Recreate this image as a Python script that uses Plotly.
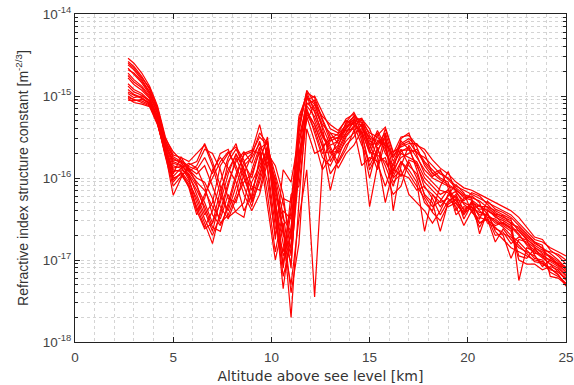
import plotly.graph_objects as go

# Altitude grid [km]
altitude = [2.7, 3.0, 3.4, 3.8, 4.2, 4.6, 5.0, 5.4, 5.8, 6.2, 6.6, 7.0, 7.4, 7.8, 8.2, 8.6,
            9.0, 9.4, 9.8, 10.2, 10.6, 11.0, 11.4, 11.8, 12.2, 12.6, 13.0, 13.4, 13.8, 14.2,
            14.6, 15.0, 15.4, 15.8, 16.2, 16.6, 17.0, 17.4, 17.8, 18.2, 18.6, 19.0, 19.4,
            19.8, 20.2, 20.6, 21.0, 21.4, 21.8, 22.2, 22.6, 23.0, 23.4, 23.8, 24.2, 24.6, 25.0]

# log10(Cn2) profiles
s01 = [-14.54, -14.60, -14.72, -14.88, -15.12, -15.50, -15.72, -15.75, -15.80, -15.70, -15.60, -15.85, -16.20, -16.40, -16.10, -15.80, -15.70, -15.50, -15.60, -16.20, -16.60, -17.70, -16.30, -15.10, -15.05, -15.30, -15.55, -15.50, -15.35, -15.25, -15.30, -15.55, -15.60, -15.50, -15.80, -15.60, -15.55, -15.70, -15.75, -15.85, -15.95, -16.00, -16.10, -16.15, -16.20, -16.25, -16.30, -16.35, -16.40, -16.45, -16.55, -16.65, -16.75, -16.78, -16.85, -16.90, -16.95]
s02 = [-14.58, -14.64, -14.76, -14.92, -15.18, -15.58, -15.80, -15.84, -15.95, -16.10, -16.30, -16.55, -16.30, -15.95, -15.70, -15.90, -16.15, -15.90, -15.62, -15.95, -16.30, -16.75, -15.40, -14.95, -15.20, -15.45, -15.70, -15.60, -15.40, -15.30, -15.32, -15.45, -15.50, -15.65, -15.95, -15.70, -15.75, -15.80, -16.00, -16.10, -16.20, -16.15, -16.25, -16.30, -16.35, -16.45, -16.45, -16.55, -16.55, -16.60, -16.70, -16.80, -16.88, -16.95, -17.00, -17.05, -17.15]
s03 = [-14.62, -14.68, -14.80, -14.95, -15.15, -15.52, -15.68, -15.78, -15.86, -15.90, -15.75, -15.95, -15.70, -15.65, -15.90, -16.20, -16.40, -16.20, -15.80, -16.00, -16.45, -17.10, -15.60, -15.05, -15.00, -15.20, -15.40, -15.45, -15.28, -15.22, -15.45, -15.90, -15.70, -15.40, -15.70, -15.50, -15.48, -15.60, -15.65, -15.78, -15.88, -15.95, -16.05, -16.12, -16.15, -16.20, -16.25, -16.30, -16.36, -16.40, -16.48, -16.60, -16.72, -16.75, -16.88, -16.95, -17.05]
s04 = [-14.66, -14.74, -14.84, -14.98, -15.22, -15.62, -15.90, -15.92, -16.05, -16.25, -16.50, -16.70, -16.45, -16.10, -15.75, -16.00, -16.25, -15.75, -15.55, -16.40, -17.35, -16.60, -15.80, -15.20, -15.35, -15.60, -16.15, -15.75, -15.50, -15.38, -15.28, -15.40, -15.65, -15.85, -16.10, -15.80, -15.90, -16.05, -16.65, -16.20, -16.30, -16.25, -16.35, -16.58, -16.40, -16.55, -16.50, -16.78, -16.62, -16.75, -16.85, -16.90, -16.95, -17.05, -17.10, -17.18, -17.32]
s05 = [-14.72, -14.80, -14.88, -15.00, -15.20, -15.55, -15.76, -15.82, -15.90, -16.00, -16.05, -16.25, -16.55, -16.45, -16.20, -15.85, -15.75, -15.58, -15.85, -16.60, -16.90, -16.35, -15.25, -15.00, -15.15, -15.38, -15.60, -15.55, -15.38, -15.28, -15.50, -16.35, -15.85, -15.45, -16.40, -15.85, -15.60, -15.75, -15.90, -16.00, -16.05, -16.10, -16.15, -16.22, -16.25, -16.68, -16.40, -16.45, -16.50, -16.55, -16.62, -16.72, -16.80, -16.85, -16.92, -17.00, -17.10]
s06 = [-14.78, -14.86, -14.93, -15.03, -15.26, -15.66, -16.00, -15.96, -16.10, -16.35, -16.60, -16.40, -16.05, -15.75, -15.58, -15.95, -16.30, -16.05, -15.70, -15.85, -16.20, -16.95, -15.95, -15.15, -15.45, -15.75, -15.85, -15.65, -15.45, -15.32, -15.36, -15.60, -15.45, -15.70, -15.85, -15.65, -15.85, -15.95, -16.20, -16.30, -16.65, -16.30, -16.20, -16.40, -16.30, -16.35, -16.35, -16.40, -16.45, -16.50, -17.25, -16.85, -16.90, -16.98, -17.05, -17.10, -17.20]
s07 = [-14.85, -14.92, -14.97, -15.06, -15.24, -15.60, -15.85, -15.88, -15.98, -16.15, -16.35, -16.60, -16.65, -16.30, -15.95, -15.72, -15.68, -15.35, -15.75, -16.30, -16.80, -17.30, -16.50, -15.90, -17.45, -15.85, -15.50, -15.70, -15.55, -15.45, -15.40, -15.50, -15.75, -16.30, -15.90, -15.75, -15.70, -15.65, -15.80, -15.90, -16.00, -16.05, -16.40, -16.25, -16.22, -16.30, -16.55, -16.60, -16.70, -16.98, -16.75, -16.78, -16.85, -16.90, -16.95, -17.02, -17.12]
s08 = [-14.92, -14.98, -15.02, -15.09, -15.30, -15.70, -16.21, -16.00, -15.84, -15.80, -15.58, -15.80, -16.10, -16.48, -16.40, -16.30, -15.90, -15.62, -16.20, -16.90, -16.40, -16.50, -15.70, -15.30, -15.10, -15.25, -15.35, -15.42, -15.30, -15.35, -15.60, -15.80, -15.55, -15.60, -16.00, -15.90, -16.20, -16.30, -16.40, -16.55, -16.40, -16.20, -16.08, -16.18, -16.42, -16.50, -16.28, -16.38, -16.42, -16.48, -16.58, -16.68, -16.78, -16.82, -17.20, -17.22, -17.30]
s09 = [-14.97, -15.02, -15.00, -15.05, -15.28, -15.64, -15.95, -15.74, -15.92, -16.05, -16.15, -16.35, -16.50, -16.20, -16.42, -16.48, -16.05, -15.85, -15.65, -16.10, -16.70, -16.85, -15.35, -14.98, -15.30, -15.55, -15.95, -15.80, -15.60, -15.50, -15.34, -15.65, -15.90, -15.55, -15.75, -15.55, -15.65, -15.85, -16.05, -16.15, -16.25, -16.35, -16.30, -16.45, -16.28, -16.40, -16.48, -16.50, -16.58, -16.65, -17.00, -17.05, -17.05, -17.12, -17.08, -17.12, -17.25]
s10 = [-15.00, -15.05, -15.06, -15.11, -15.33, -15.72, -16.05, -15.93, -16.12, -16.45, -16.20, -16.00, -15.80, -15.68, -15.85, -16.10, -16.35, -16.00, -15.60, -16.50, -17.05, -16.20, -16.10, -15.25, -15.55, -15.90, -15.75, -15.52, -15.33, -15.26, -15.55, -16.00, -15.62, -15.95, -16.20, -16.10, -15.80, -16.00, -16.30, -16.40, -16.10, -15.92, -16.18, -16.28, -16.18, -16.22, -16.32, -16.42, -16.48, -16.52, -16.65, -16.75, -16.82, -16.88, -16.90, -16.93, -17.00]
s11 = [-15.03, -15.08, -15.10, -15.13, -15.35, -15.68, -15.88, -15.86, -16.02, -16.30, -16.55, -16.80, -16.40, -16.05, -15.80, -15.68, -15.82, -15.55, -15.90, -16.75, -15.90, -16.05, -15.50, -15.12, -15.25, -15.50, -15.65, -15.88, -15.70, -15.60, -15.42, -15.70, -15.48, -15.38, -15.68, -15.62, -15.58, -15.58, -15.70, -15.95, -15.90, -16.12, -16.45, -16.35, -16.38, -16.60, -16.42, -16.65, -16.75, -16.85, -16.90, -16.95, -17.00, -17.02, -17.15, -17.20, -17.28]
s12 = [-15.05, -15.06, -15.04, -15.08, -15.31, -15.74, -16.10, -15.98, -15.88, -15.95, -15.85, -16.10, -16.35, -16.50, -16.25, -16.05, -15.95, -15.68, -16.35, -17.00, -16.55, -17.40, -16.80, -15.40, -15.70, -15.65, -15.45, -15.48, -15.42, -15.40, -15.85, -15.75, -15.80, -15.75, -16.05, -15.95, -16.00, -16.15, -16.10, -16.25, -16.45, -16.28, -16.22, -16.50, -16.32, -16.38, -16.38, -16.48, -16.52, -16.58, -16.68, -16.82, -16.92, -16.93, -17.02, -17.08, -17.18]
s13 = [-14.68, -14.72, -14.82, -14.96, -15.20, -15.57, -15.82, -15.85, -15.92, -15.85, -15.65, -15.70, -15.90, -16.25, -16.30, -15.95, -15.72, -15.45, -15.58, -16.05, -16.65, -17.05, -15.75, -15.02, -15.10, -15.35, -15.45, -15.58, -15.45, -15.30, -15.27, -15.48, -15.58, -15.45, -15.75, -15.58, -15.52, -15.62, -15.85, -15.98, -15.92, -16.02, -16.12, -16.20, -16.24, -16.28, -16.36, -16.44, -16.46, -16.56, -16.60, -16.70, -16.78, -16.86, -16.98, -17.04, -17.08]
s14 = [-14.75, -14.83, -14.90, -15.02, -15.25, -15.65, -15.92, -15.90, -15.96, -16.20, -16.45, -16.30, -15.85, -15.70, -15.62, -15.78, -16.10, -16.15, -15.72, -16.25, -17.10, -16.40, -15.45, -14.93, -15.08, -15.40, -15.80, -15.62, -15.32, -15.20, -15.38, -15.65, -15.42, -15.62, -15.92, -15.52, -15.45, -15.72, -15.95, -16.05, -16.15, -16.18, -16.28, -16.38, -16.36, -16.42, -16.45, -16.52, -16.60, -16.70, -16.78, -16.88, -16.98, -17.00, -17.12, -17.15, -17.22]
s15 = [-14.88, -14.95, -14.99, -15.07, -15.27, -15.61, -15.78, -15.80, -16.00, -16.40, -16.25, -15.90, -15.75, -15.88, -16.05, -16.40, -16.20, -15.80, -15.50, -16.35, -16.95, -16.70, -15.90, -15.08, -15.18, -15.48, -15.62, -15.82, -15.65, -15.42, -15.35, -15.58, -15.82, -16.10, -15.82, -15.68, -15.62, -15.90, -16.22, -16.35, -16.28, -16.14, -16.32, -16.42, -16.30, -16.48, -16.52, -16.58, -16.54, -16.62, -16.95, -16.98, -16.86, -16.96, -17.05, -17.14, -17.24]
s16 = [-14.95, -14.99, -15.03, -15.10, -15.32, -15.70, -15.98, -15.88, -15.82, -15.88, -16.10, -16.45, -16.58, -16.35, -16.00, -15.70, -15.66, -15.70, -16.05, -16.70, -16.25, -16.30, -15.55, -15.18, -15.35, -15.62, -15.52, -15.46, -15.36, -15.33, -15.46, -15.85, -15.66, -15.52, -15.88, -15.98, -15.78, -15.82, -16.12, -16.20, -16.35, -16.22, -16.16, -16.32, -16.40, -16.33, -16.44, -16.62, -16.66, -16.80, -16.72, -16.76, -16.94, -17.08, -17.00, -17.06, -17.14]
s17 = [-14.60, -14.66, -14.78, -14.90, -15.14, -15.54, -15.74, -15.80, -15.88, -16.08, -16.40, -16.65, -16.25, -15.80, -15.65, -15.82, -16.00, -15.65, -15.56, -16.15, -16.50, -16.65, -15.30, -14.96, -15.02, -15.28, -15.50, -15.52, -15.40, -15.24, -15.33, -15.52, -15.54, -15.58, -15.72, -15.66, -15.66, -15.68, -15.82, -15.94, -16.02, -16.08, -16.14, -16.24, -16.27, -16.34, -16.40, -16.46, -16.56, -16.62, -16.64, -16.74, -16.84, -16.92, -16.96, -17.06, -17.10]
s18 = [-15.02, -15.04, -15.08, -15.12, -15.34, -15.71, -16.02, -15.94, -16.08, -16.40, -16.62, -16.55, -16.15, -15.90, -15.72, -15.88, -16.28, -15.95, -15.68, -16.45, -17.20, -16.80, -15.85, -15.22, -15.40, -15.70, -15.68, -15.68, -15.48, -15.36, -15.44, -15.68, -15.72, -15.80, -15.98, -15.80, -15.95, -16.10, -16.25, -16.42, -16.52, -16.32, -16.26, -16.44, -16.35, -16.55, -16.48, -16.70, -16.68, -16.72, -16.82, -16.92, -17.02, -17.04, -17.10, -17.18, -17.30]

profiles = [s01, s02, s03, s04, s05, s06, s07, s08, s09, s10, s11, s12,
            s13, s14, s15, s16, s17, s18]
for p in profiles:
    assert len(p) == len(altitude), len(p)

y_tick_vals = [1e-18, 1e-17, 1e-16, 1e-15, 1e-14]
y_tick_text = ["10<sup>-18</sup>", "10<sup>-17</sup>", "10<sup>-16</sup>", "10<sup>-15</sup>", "10<sup>-14</sup>"]
x_tick_vals = [0, 5, 10, 15, 20, 25]

fig = go.Figure()
for prof in profiles:
    fig.add_trace(go.Scatter(
        x=altitude, y=[10 ** v for v in prof], mode="lines",
        line=dict(color="#ff0000", width=1.2), showlegend=False, hoverinfo="skip"))

font = "Liberation Sans, Arial, sans-serif"
grid = dict(showgrid=True, gridcolor="#d4d4d4", griddash="dot", gridwidth=1)

fig.update_layout(
    width=574, height=385,
    margin=dict(l=75, r=8, t=14, b=43, autoexpand=False),
    paper_bgcolor="white", plot_bgcolor="white",
    font=dict(family=font, size=13, color="#333333"),
    xaxis=dict(
        range=[0, 25], tickvals=x_tick_vals, ticks="inside", ticklen=5,
        tickcolor="#222222", showline=True, linecolor="#222222", linewidth=1,
        mirror="ticks", zeroline=False, automargin=False, ticklabelstandoff=3,
        minor=dict(dtick=1, ticks="", **grid), **grid,
        title=dict(text="Altitude above see level [km]", standoff=6,
                   font=dict(family="DejaVu Sans, sans-serif", size=14, color="#333333")),
        tickfont=dict(size=13.5, color="#444444"),
    ),
    yaxis=dict(
        type="log", range=[-18, -14], tickvals=y_tick_vals, ticktext=y_tick_text,
        ticks="inside", ticklen=5, tickcolor="#222222", showline=True,
        linecolor="#222222", linewidth=1, mirror="ticks", zeroline=False, automargin=False,
        minor=dict(dtick="D1", ticks="inside", ticklen=3, tickcolor="#222222", **grid), **grid,
        title=dict(text="Refractive index structure constant [m<sup>-2/3</sup>]", standoff=10,
                   font=dict(size=14, color="#333333")),
        tickfont=dict(size=13.5, color="#444444"),
    ),
)

fig.write_html("out.html")
